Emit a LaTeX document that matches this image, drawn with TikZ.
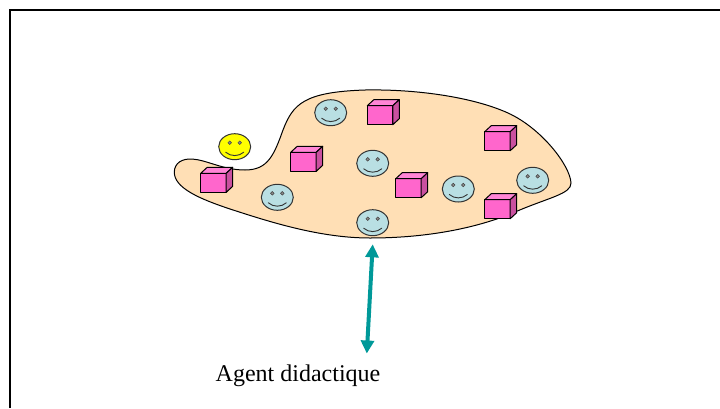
\documentclass[tikz,border=0pt]{standalone}
\usepackage{fontspec}
\setmainfont{Liberation Serif}
\usetikzlibrary{arrows.meta}
\definecolor{blobfill}{HTML}{FFDFB5}
\definecolor{facefront}{HTML}{FF66CC}
\definecolor{facetop}{HTML}{FF85D6}
\definecolor{faceside}{HTML}{C9509F}
\definecolor{faceblue}{HTML}{B9DFE3}
\definecolor{faceyellow}{HTML}{FFFF00}
\definecolor{teal1}{HTML}{009999}
\tikzset{
  outline/.style={draw=black,line width=1pt,line join=round},
  smileline/.style={draw=black!80,line width=0.9pt,line cap=round},
  pics/cubebox/.style={code={
    \fill[facefront,outline] (0,0) rectangle (25.5,19);
    \fill[facetop,outline] (0,0) -- (6.5,-6) -- (32,-6) -- (25.5,0) -- cycle;
    \fill[faceside,outline] (25.5,0) -- (32,-6) -- (32,13) -- (25.5,19) -- cycle;
  }},
  pics/smiley/.style={code={
    \fill[#1,draw=black!80,line width=1pt] (0,0) ellipse [x radius=16,y radius=13];
    \fill[black!45,draw=black!75,line width=0.5pt] (-5,-4) circle (1.8);
    \fill[black!45,draw=black!75,line width=0.5pt] (5,-4) circle (1.8);
    \draw[smileline] (-9,5.5) .. controls (-4,10) and (4,10) .. (9,5.5);
  }}
}
\begin{document}
\begin{tikzpicture}[x=1pt,y=-1pt]
\useasboundingbox (0,0) rectangle (720,408);
\draw[black,line width=2pt] (10,408) -- (10,10) -- (720,10);
\draw[fill=blobfill,draw=black,line width=1pt]
  (174.3,172)
  .. controls (174.5,163) and (182,158.5) .. (192,159)
  .. controls (207,160) and (223,170) .. (245,170)
  .. controls (268,170) and (274,155) .. (283,130)
  .. controls (293,104) and (304,92) .. (365,90)
  .. controls (420,89) and (475,98) .. (508,113)
  .. controls (541,128) and (570,165) .. (571,183)
  .. controls (571,194) and (550,197) .. (515,212)
  .. controls (480,227) and (430,238) .. (370,238)
  .. controls (320,238) and (270,222) .. (230,209)
  .. controls (200,199) and (174,188) .. (174.3,172)
  -- cycle;
\pic at (234.7,146.7) {smiley=faceyellow};
\pic at (330.7,112.7) {smiley=faceblue};
\pic at (277.3,197.3) {smiley=faceblue};
\pic at (372.7,163.3) {smiley=faceblue};
\pic at (372.7,222.7) {smiley=faceblue};
\pic at (458.3,189) {smiley=faceblue};
\pic at (532.7,180.3) {smiley=faceblue};
\pic at (200.7,173.3) {cubebox};
\pic at (290.7,152.3) {cubebox};
\pic at (367.3,105.7) {cubebox};
\pic at (484.7,131.7) {cubebox};
\pic at (395.7,178.7) {cubebox};
\pic at (484.7,199.7) {cubebox};
\coordinate (up) at (372.7,244.3);
\coordinate (down) at (366.8,353.5);
\draw[teal1,line width=4pt,{Triangle[length=13pt,width=13pt]}-{Triangle[length=13pt,width=13pt]}] (up) -- (down);
\node[inner sep=0pt,font=\fontsize{24pt}{28pt}\selectfont] (label) at (298,375.5) {Agent didactique};
\end{tikzpicture}
\end{document}
